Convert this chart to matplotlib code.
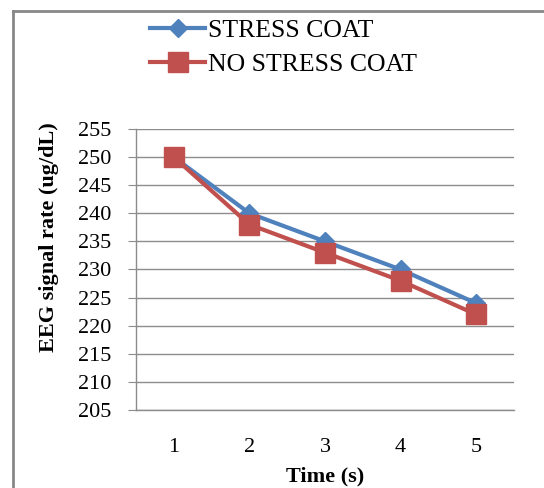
import matplotlib.pyplot as plt
from matplotlib.lines import Line2D

# data
time_s = [1, 2, 3, 4, 5]
stress_coat = [250, 240, 235, 230, 224]
no_stress_coat = [250, 238, 233, 228, 222]
y_ticks = list(range(205, 256, 5))

plt.rcParams['font.family'] = ['Liberation Serif', 'DejaVu Serif']

fig = plt.figure(figsize=(5.44, 4.88), dpi=100)
ax = fig.add_axes([136 / 544, 1 - 410 / 488, 378 / 544, 281 / 488])

grid_col = '#8c8c8c'
ax.plot(time_s, stress_coat, color='#4F81BD', lw=3, marker='D', ms=9,
        label='STRESS COAT', zorder=3)
ax.plot(time_s, no_stress_coat, color='#C0504D', lw=3, marker='s', ms=14,
        label='NO STRESS COAT', zorder=4)

ax.set_xlim(0.5, 5.5)
ax.set_ylim(205, 255)
ax.set_yticks(y_ticks)
ax.set_xticks(time_s)
ax.yaxis.grid(True, color=grid_col, lw=1)
ax.set_axisbelow(True)

for side in ['top', 'right']:
    ax.spines[side].set_visible(False)
ax.spines['left'].set_color(grid_col)
ax.spines['bottom'].set_color(grid_col)
ax.spines['left'].set_linewidth(1)
ax.spines['bottom'].set_linewidth(1)

ax.tick_params(axis='y', length=6, color=grid_col, pad=12, labelsize=16)
ax.tick_params(axis='x', length=0, pad=20, labelsize=16)

ax.set_ylabel('EEG signal rate (ug/dL)', fontsize=16, fontweight='bold')
ax.yaxis.set_label_coords(-0.205, 0.616)
ax.set_xlabel('Time (s)', fontsize=16, fontweight='bold', labelpad=7)

fig.legend(loc='center left', bbox_to_anchor=(150 / 544, 1 - 47.5 / 488),
           frameon=False, prop={'family': 'Liberation Serif', 'size': 18.5},
           handlelength=2.15, handletextpad=0.1,
           borderpad=0, borderaxespad=0, labelspacing=0.4)

# outer frame of the chart area
fig.add_artist(Line2D([13 / 544, 13 / 544], [0, 1 - 11 / 488],
                      transform=fig.transFigure, color='#888888', lw=2))
fig.add_artist(Line2D([13 / 544, 1], [1 - 11 / 488, 1 - 11 / 488],
                      transform=fig.transFigure, color='#888888', lw=2))

fig.savefig('out.png', dpi=100)
